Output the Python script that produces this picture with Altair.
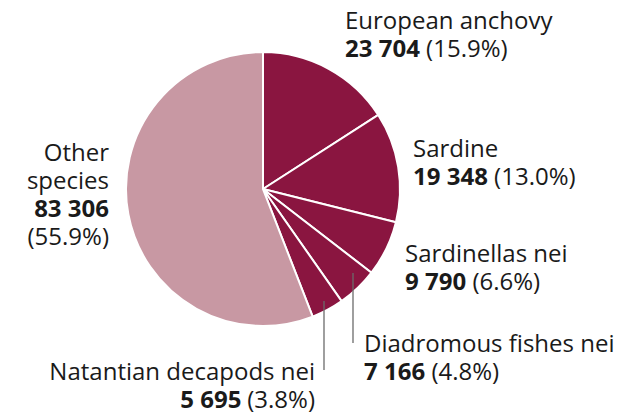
import altair as alt
import pandas as pd

# ---- data ----
species = ["European anchovy", "Sardine", "Sardinellas nei",
           "Diadromous fishes nei", "Natantian decapods nei", "Other species"]
catch_t = [23704, 19348, 9790, 7166, 5695, 83306]
share_pct = [15.9, 13.0, 6.6, 4.8, 3.8, 55.9]
group = ["Top five", "Top five", "Top five", "Top five", "Top five", "Other"]

# ---- styling / layout ----
FONT = "Open Sans"
FS = 24
DARK = "#8A1540"
LIGHT = "#C898A3"
TXT = "#1a1a1a"
R = 137
CX, CY = 255, 181

# label anchors (pixel, plot area) : x, first baseline, align
label_layout = {
    "European anchovy": (337, 21, "left", ["European anchovy"]),
    "Sardine": (405, 149, "left", ["Sardine"]),
    "Sardinellas nei": (397, 254, "left", ["Sardinellas nei"]),
    "Diadromous fishes nei": (356, 344, "left", ["Diadromous fishes nei"]),
    "Natantian decapods nei": (307, 372, "right", ["Natantian decapods nei"]),
    "Other species": (101, 153, "right", ["Other", "species"]),
}
LINE_H = 28
leaders = [  # x, y_top, y_bottom
    (345, 265, 335),
    (316, 293, 362),
]

def fmt_num(n):
    return f"{n:,}".replace(",", " ")

def fmt_pct(p):
    return f"({p:.1f}%)"

# approximate Open Sans advance widths (em)
W = {"d": 0.572, " ": 0.26, "(": 0.282, ")": 0.282, ".": 0.266, "%": 0.831}
def text_w(s):
    return sum(W["d"] if ch.isdigit() else W.get(ch, 0.55) for ch in s) * FS

pie_df = pd.DataFrame({"species": species, "catch": catch_t,
                       "order": list(range(len(species))), "group": group})

rows = []
for sp, n, p in zip(species, catch_t, share_pct):
    x0, y0, align, name_lines = label_layout[sp]
    y = y0
    for ln in name_lines:
        rows.append(dict(t=ln, px=x0, py=y, w="normal", a=align))
        y += LINE_H
    num, pct = fmt_num(n), fmt_pct(p)
    if sp == "Other species":
        rows.append(dict(t=num, px=x0, py=y, w="bold", a=align))
        y += LINE_H
        rows.append(dict(t=pct, px=x0, py=y, w="normal", a=align))
    elif align == "left":
        rows.append(dict(t=num, px=x0, py=y, w="bold", a="left"))
        rows.append(dict(t=pct, px=x0 + text_w(num) + W[" "] * FS, py=y, w="normal", a="left"))
    else:
        rows.append(dict(t=pct, px=x0, py=y, w="normal", a="right"))
        rows.append(dict(t=num, px=x0 - text_w(pct) - W[" "] * FS, py=y, w="bold", a="right"))
text_df = pd.DataFrame(rows)
lead_df = pd.DataFrame(leaders, columns=["lx", "ly", "ly2"])

pie = alt.Chart(pie_df).mark_arc(outerRadius=R, stroke="white", strokeWidth=2).encode(
    theta=alt.Theta("catch:Q", stack=True),
    order=alt.Order("order:Q"),
    color=alt.Color("group:N", scale=alt.Scale(domain=["Top five", "Other"], range=[DARK, LIGHT]),
                    legend=None),
    x=alt.value(CX), y=alt.value(CY),
)

rules = alt.Chart(lead_df).mark_rule(color="#6b6b6b", strokeWidth=1.3).encode(
    x=alt.X("lx:Q", scale=None), y=alt.Y("ly:Q", scale=None), y2="ly2:Q"
)

layers = [pie, rules]
for wt in ["normal", "bold"]:
    for al in ["left", "right"]:
        layers.append(
            alt.Chart(text_df).transform_filter(
                (alt.datum.w == wt) & (alt.datum.a == al)
            ).mark_text(font=FONT, fontSize=FS, fontWeight=wt, align=al,
                        baseline="alphabetic", color=TXT).encode(
                x=alt.X("px:Q", scale=None), y=alt.Y("py:Q", scale=None), text="t:N"
            )
        )

chart = alt.layer(*layers).properties(
    width=607, height=406, padding=0, autosize="none"
).configure_view(stroke=None)

chart.save("out.html", embed_options={"renderer": "svg", "actions": False})
